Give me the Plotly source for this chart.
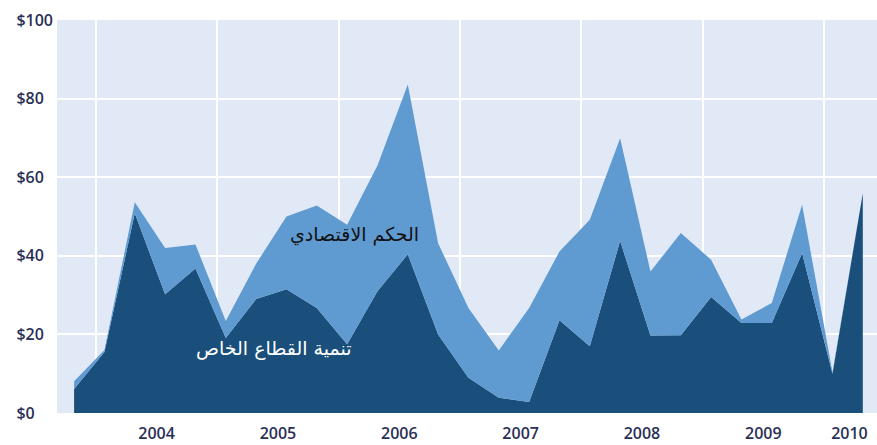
import pandas as pd
import plotly.graph_objects as go

# Quarterly spending, Q4 2003 through Q2 2010 (millions of dollars)
quarters = pd.period_range("2003Q4", "2010Q2", freq="Q")
private_sector = [6.1, 15.5, 50.8, 30.2, 36.8, 19.1, 29.0, 31.5, 26.7, 17.5,
                  31.0, 40.4, 20.0, 9.0, 3.9, 2.8, 23.6, 17.0, 43.8, 19.7,
                  19.8, 29.5, 22.9, 22.9, 40.7, 10.0, 55.9]
economic_governance = [2.0, 0.5, 2.8, 11.8, 6.1, 4.3, 9.0, 18.5, 26.1, 30.4,
                       32.0, 43.2, 23.2, 17.7, 12.0, 23.9, 17.5, 32.2, 26.1, 16.3,
                       26.0, 9.5, 0.9, 5.1, 12.3, 0.4, 0.0]

year_labels = ["2004", "2005", "2006", "2007", "2008", "2009", "2010"]
year_label_pos = [2004.5, 2005.5, 2006.5, 2007.5, 2008.5, 2009.5, 2010.21]
year_bounds = [2004, 2005, 2006, 2007, 2008, 2009, 2010]
y_ticks = [0, 20, 40, 60, 80, 100]
y_labels = ["$0\u2007\u2007", "$20\u2007", "$40\u2007", "$60\u2007", "$80\u2007", "$100"]

# position each quarter on a decimal-year axis
x = [q.year + (q.quarter - 1) / 4 + 0.07 for q in quarters]

fig = go.Figure()
fig.add_trace(go.Scatter(
    x=x, y=private_sector, name="تنمية القطاع الخاص",
    stackgroup="one", mode="none", fillcolor="#1a4f7c",
))
fig.add_trace(go.Scatter(
    x=x, y=economic_governance, name="الحكم الاقتصادي",
    stackgroup="one", mode="none", fillcolor="#5f9bd1",
))

fig.add_annotation(x=2006.13, y=45.5, text="الحكم الاقتصادي", showarrow=False,
                   font=dict(family="DejaVu Sans", size=19, color="#111111"))
fig.add_annotation(x=2005.47, y=16.3, text="تنمية القطاع الخاص", showarrow=False,
                   font=dict(family="DejaVu Sans", size=19, color="#ffffff"))

tick_font = dict(family="Open Sans", size=16, color="#2a2f55", weight=600)

fig.update_layout(
    width=877, height=445,
    margin=dict(l=57, r=0, t=20, b=32),
    paper_bgcolor="#ffffff", plot_bgcolor="#e2e9f6",
    showlegend=False,
    xaxis=dict(
        range=[2003.679, 2010.437],
        tickmode="array", tickvals=year_label_pos, ticktext=year_labels,
        showgrid=False, zeroline=False, ticks="", tickfont=tick_font,
        ticklabelstandoff=9,
        minor=dict(tickmode="array", tickvals=year_bounds, showgrid=True,
                   gridcolor="#ffffff", gridwidth=2),
    ),
    yaxis=dict(
        range=[0, 100],
        tickmode="array", tickvals=y_ticks, ticktext=y_labels,
        showgrid=True, gridcolor="#ffffff", gridwidth=2,
        zeroline=False, ticks="", tickfont=tick_font, ticklabelstandoff=3,
    ),
)

fig.write_html("out.html")
